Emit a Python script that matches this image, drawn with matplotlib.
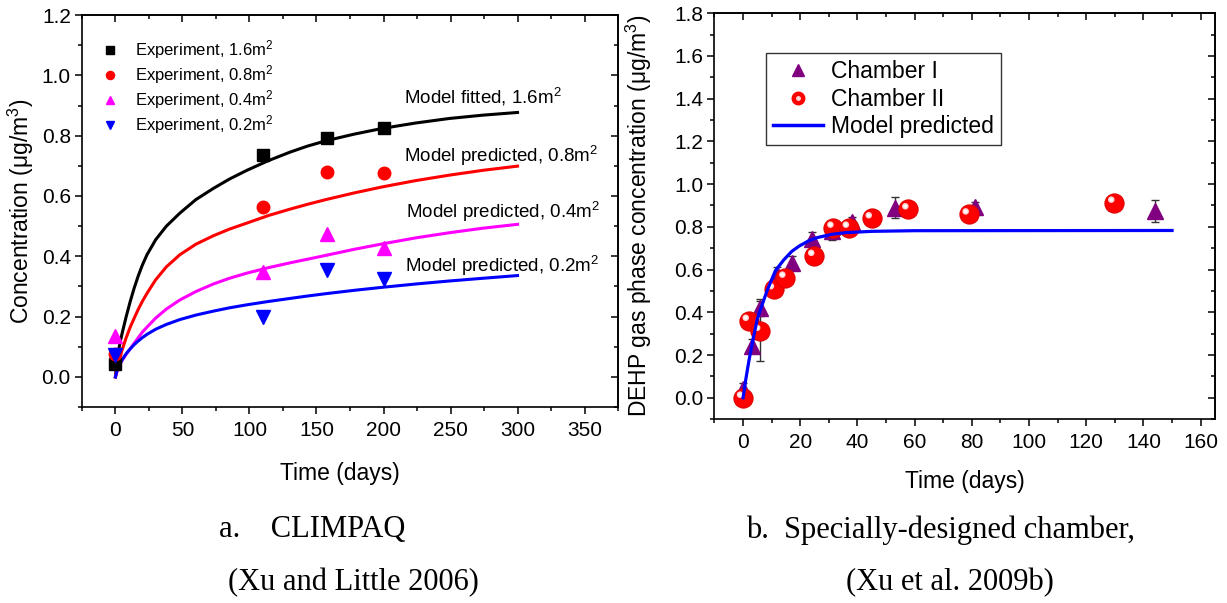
import matplotlib
matplotlib.use("Agg")
import matplotlib.pyplot as plt
from matplotlib.ticker import MultipleLocator
from matplotlib.lines import Line2D
from matplotlib.legend_handler import HandlerTuple
from matplotlib.transforms import offset_copy

plt.rcParams['font.family'] = ['Liberation Sans', 'DejaVu Sans']
plt.rcParams['mathtext.fontset'] = 'custom'
plt.rcParams['mathtext.rm'] = 'Liberation Sans'
plt.rcParams['mathtext.it'] = 'Liberation Sans:italic'

# ---- panel a : CLIMPAQ ----
exp_days = [0, 110, 158, 200]
exp_16 = [0.043, 0.736, 0.793, 0.824]
exp_08 = [0.075, 0.564, 0.680, 0.677]
exp_04 = [0.135, 0.349, 0.473, 0.426]
exp_02 = [0.072, 0.197, 0.355, 0.324]

mdl_days = [0, 1, 2, 3.5, 5, 8, 11, 14, 17, 20, 23.5, 30, 38, 48, 60, 73, 85, 98, 114, 130,
            143, 157, 178, 199, 224, 249, 274, 300]
mdl_16 = [0, 0.05, 0.08, 0.115, 0.145, 0.2, 0.25, 0.295, 0.335, 0.37, 0.405, 0.455, 0.5, 0.543,
          0.588, 0.625, 0.656, 0.685, 0.717, 0.745, 0.765, 0.783, 0.805, 0.824, 0.842, 0.857,
          0.868, 0.877]
mdl_08 = [0, 0.025, 0.045, 0.07, 0.09, 0.13, 0.165, 0.195, 0.224, 0.25, 0.277, 0.322, 0.365,
          0.405, 0.44, 0.468, 0.49, 0.51, 0.535, 0.556, 0.572, 0.588, 0.61, 0.63, 0.651, 0.669,
          0.685, 0.699]
mdl_04 = [0, 0.015, 0.027, 0.042, 0.055, 0.075, 0.093, 0.112, 0.13, 0.148, 0.165, 0.195, 0.225,
          0.255, 0.283, 0.308, 0.327, 0.344, 0.362, 0.378, 0.39, 0.403, 0.423, 0.441, 0.461,
          0.478, 0.493, 0.506]
mdl_02 = [0, 0.018, 0.03, 0.045, 0.057, 0.077, 0.093, 0.107, 0.119, 0.13, 0.141, 0.158, 0.174,
          0.19, 0.205, 0.218, 0.229, 0.239, 0.25, 0.26, 0.268, 0.276, 0.287, 0.297, 0.308, 0.318,
          0.327, 0.336]

# ---- panel b : specially-designed chamber ----
ch1_days = [0, 3, 6, 12, 17, 24, 31, 38, 53, 81, 144]
ch1_vals = [0.04, 0.243, 0.422, 0.58, 0.633, 0.745, 0.78, 0.825, 0.89, 0.895, 0.874]
ch1_err = [0.03, 0.03, 0.04, 0.03, 0.03, 0.03, 0.04, 0.02, 0.05, 0.02, 0.05]

ch2_days = [0, 2, 6, 10.8, 14.8, 24.9, 31.6, 37, 45, 57.8, 78.9, 129.8]
ch2_vals = [0.0, 0.36, 0.313, 0.508, 0.562, 0.664, 0.796, 0.796, 0.84, 0.882, 0.858, 0.913]
ch2_err = [0, 0, 0.14, 0, 0, 0, 0, 0, 0, 0, 0, 0]

pred_days = [0, 1, 2, 3.5, 5, 6, 8.5, 11.3, 14.2, 17, 19.6, 23, 26, 31, 36, 45, 60, 150]
pred_vals = [0, 0.09, 0.17, 0.275, 0.37, 0.41, 0.505, 0.595, 0.645, 0.685, 0.71, 0.735, 0.75,
             0.765, 0.773, 0.779, 0.782, 0.783]


def style_axes(ax, xmaj, xmin, ymaj, ymin):
    ax.xaxis.set_major_locator(MultipleLocator(xmaj))
    ax.xaxis.set_minor_locator(MultipleLocator(xmin))
    ax.yaxis.set_major_locator(MultipleLocator(ymaj))
    ax.yaxis.set_minor_locator(MultipleLocator(ymin))
    ax.tick_params(which='major', direction='out', length=5, width=1.1, labelsize=15, pad=3)
    ax.tick_params(which='minor', direction='out', length=3, width=1.1)
    ax.tick_params(axis='x', which='major', pad=5)
    for s in ax.spines.values():
        s.set_linewidth(1.2)
    # inward ticks on top and right, no labels
    top = ax.secondary_xaxis('top')
    top.xaxis.set_major_locator(MultipleLocator(xmaj))
    top.xaxis.set_minor_locator(MultipleLocator(xmin))
    right = ax.secondary_yaxis('right')
    right.yaxis.set_major_locator(MultipleLocator(ymaj))
    right.yaxis.set_minor_locator(MultipleLocator(ymin))
    for sec in (top, right):
        sec.tick_params(which='major', direction='in', length=5, width=1.1,
                        labeltop=False, labelright=False)
        sec.tick_params(which='minor', direction='in', length=3, width=1.1)
        for s in sec.spines.values():
            s.set_linewidth(1.2)


fig = plt.figure(figsize=(12.27, 6.03), dpi=100)
ax1 = fig.add_axes([0.0668, 0.325, 0.4369, 0.650])
ax2 = fig.add_axes([0.5823, 0.305, 0.4079, 0.673])

# panel a
ax1.plot(mdl_days, mdl_16, color='black', lw=2.2, zorder=2)
ax1.plot(mdl_days, mdl_08, color='#ff0000', lw=2.2, zorder=2)
ax1.plot(mdl_days, mdl_04, color='#ff00ff', lw=2.2, zorder=2)
ax1.plot(mdl_days, mdl_02, color='#0000ff', lw=2.2, zorder=2)
h16, = ax1.plot(exp_days, exp_16, 's', color='black', ms=8.5, ls='none', label='Experiment, 1.6m$^2$')
h08, = ax1.plot(exp_days, exp_08, 'o', color='#ff0000', ms=9, ls='none', label='Experiment, 0.8m$^2$')
h04, = ax1.plot(exp_days, exp_04, '^', color='#ff00ff', ms=9.5, ls='none', label='Experiment, 0.4m$^2$')
h02, = ax1.plot(exp_days, exp_02, 'v', color='#0000ff', ms=9.5, ls='none', label='Experiment, 0.2m$^2$')

ax1.text(215, 0.928, 'Model fitted, 1.6m$^2$', fontsize=13.5, va='center', ha='left')
ax1.text(215, 0.733, 'Model predicted, 0.8m$^2$', fontsize=13.5, va='center', ha='left')
ax1.text(217, 0.547, 'Model predicted, 0.4m$^2$', fontsize=13.5, va='center', ha='left')
ax1.text(216, 0.368, 'Model predicted, 0.2m$^2$', fontsize=13.5, va='center', ha='left')

ax1.legend(handles=[h16, h08, h04, h02], loc='upper left', bbox_to_anchor=(0.012, 0.97),
           frameon=False, fontsize=12, markerscale=0.65, handlelength=1.2, handletextpad=0.9,
           labelspacing=0.12, borderaxespad=0.3)

ax1.set_xlim(-25, 375)
ax1.set_ylim(-0.1, 1.2)
style_axes(ax1, 50, 25, 0.2, 0.1)
ax1.set_xticks([0, 50, 100, 150, 200, 250, 300, 350])
ax1.set_yticks([0.0, 0.2, 0.4, 0.6, 0.8, 1.0, 1.2])
ax1.yaxis.set_major_formatter(plt.FormatStrFormatter('%.1f'))
ax1.set_xlabel('Time (days)', fontsize=16.5)
ax1.set_ylabel('Concentration (μg/m$^3$)', fontsize=16.5)
ax1.xaxis.set_label_coords(0.481, -0.14)
ax1.yaxis.set_label_coords(-0.086, 0.5)

# panel b
ax2.errorbar(ch1_days, ch1_vals, yerr=ch1_err, fmt='none', ecolor='#333333', elinewidth=1,
             capsize=3, capthick=1, zorder=2)
ax2.errorbar(ch2_days, ch2_vals, yerr=ch2_err, fmt='none', ecolor='#333333', elinewidth=1,
             capsize=3, capthick=1, zorder=2)
ax2.plot(ch1_days, ch1_vals, '^', color='#800080', ms=12, ls='none', zorder=3)
ax2.scatter(ch2_days, ch2_vals, s=190, color='#ff0000', edgecolors='#e00000', linewidths=0.8, zorder=4)
hl = offset_copy(ax2.transData, fig=fig, x=-2.2, y=2.2, units='points')
ax2.scatter(ch2_days, ch2_vals, s=22, color='#ffd6d6', edgecolors='none', transform=hl, zorder=5)
ax2.scatter(ch2_days, ch2_vals, s=6, color='white', edgecolors='none', transform=hl, zorder=6)
ax2.plot(pred_days, pred_vals, color='#0000ff', lw=2.3, zorder=7)

leg_tri = Line2D([], [], marker='^', color='#800080', ms=9, ls='none')
leg_sph = (Line2D([], [], marker='o', color='#ff0000', ms=9, ls='none'),
           Line2D([], [], marker='o', color='#ffd6d6', ms=2.5, ls='none'))
leg_line = Line2D([], [], color='#0000ff', lw=2.5)
leg = ax2.legend([leg_tri, leg_sph, leg_line], ['Chamber I', 'Chamber II', 'Model predicted'],
                 handler_map={tuple: HandlerTuple(ndivide=1)},
                 loc='upper left', bbox_to_anchor=(0.103, 0.9015), borderaxespad=0,
                 fontsize=16.5, fancybox=False, edgecolor='#333333', framealpha=1,
                 handlelength=2.2, handletextpad=0.35, labelspacing=0.2, borderpad=0.3)
leg.get_frame().set_linewidth(1.0)

ax2.set_xlim(-10, 165)
ax2.set_ylim(-0.1, 1.8)
style_axes(ax2, 20, 10, 0.2, 0.1)
ax2.set_xticks([0, 20, 40, 60, 80, 100, 120, 140, 160])
ax2.set_yticks([0.0, 0.2, 0.4, 0.6, 0.8, 1.0, 1.2, 1.4, 1.6, 1.8])
ax2.yaxis.set_major_formatter(plt.FormatStrFormatter('%.1f'))
ax2.set_xlabel('Time (days)', fontsize=16.5)
ax2.set_ylabel('DEHP gas phase concentration (μg/m$^3$)', fontsize=16.5)
ax2.xaxis.set_label_coords(0.5, -0.126)
ax2.yaxis.set_label_coords(-0.121, 0.5)

# captions under each panel
cap = dict(fontsize=22, family=['Liberation Serif', 'DejaVu Serif'], ha='center', va='center')
fig.text(312 / 1227, 1 - 530 / 603, 'a.    CLIMPAQ', **cap)
fig.text(353 / 1227, 1 - 583 / 603, '(Xu and Little 2006)', **cap)
fig.text(940 / 1227, 1 - 530 / 603, 'b.  Specially-designed chamber,', **cap)
fig.text(950 / 1227, 1 - 583 / 603, '(Xu et al. 2009b)', **cap)

fig.savefig('out.png', dpi=100)
